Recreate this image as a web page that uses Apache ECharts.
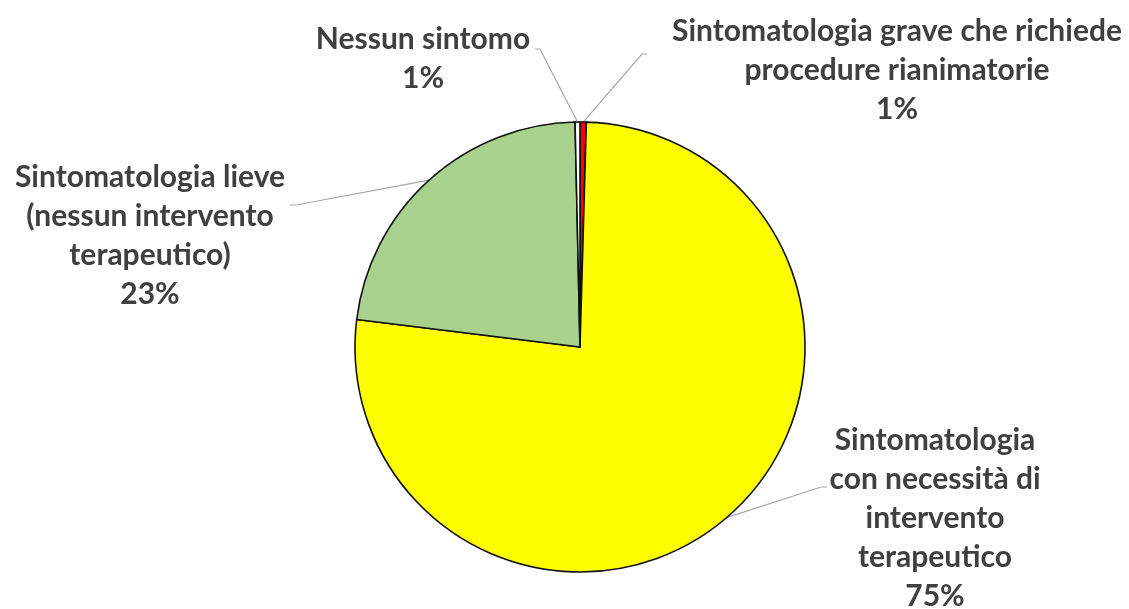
<!DOCTYPE html>
<html>
<head>
<meta charset="utf-8">
<script src="https://cdn.jsdelivr.net/npm/echarts@6/dist/echarts.min.js"></script>
<style>
  html, body { margin: 0; background: #fff; }
  #chartsDom { width: 1129px; height: 609px; }
</style>
</head>
<body>
<div id="chartsDom"></div>
<script>
// dati (in senso orario dalle ore 12)
const categories = [
  "Sintomatologia grave che richiede\nprocedure rianimatorie",
  "Sintomatologia\ncon necessità di\nintervento\nterapeutico",
  "Sintomatologia lieve\n(nessun intervento\nterapeutico)",
  "Nessun sintomo"
];
const shares = [0.45, 76.5, 22.7, 0.35];
const percentLabels = ["1%", "75%", "23%", "1%"];
const sliceColors = ["#FF0000", "#FFFF00", "#A9D18E", "#FFFFFF"];

// posizione delle etichette e piega della linea guida (px)
const labelPos = [[897, 70], [935, 518], [150, 236], [423, 59]];
const leaderEnds = [
  [[642, 54], [647, 54]],
  [[821, 487], [827, 487]],
  [[296, 205], [290, 205]],
  [[540, 49], [535, 49]]
];

const myChart = echarts.init(document.getElementById("chartsDom"));
const option = {
  animation: false,
  series: [
    {
      type: "pie",
      center: [580, 347],
      radius: 225,
      startAngle: 90,
      clockwise: true,
      avoidLabelOverlap: false,
      minAngle: 0,
      emphasis: { disabled: true },
      itemStyle: { borderColor: "#111", borderWidth: 1.6 },
      label: {
        show: true,
        formatter: p => p.name + "\n" + percentLabels[p.dataIndex],
        fontFamily: "Lato",
        fontWeight: "bold",
        fontSize: 30,
        lineHeight: 39,
        color: "#404040",
        align: "center"
      },
      labelLine: {
        show: true,
        lineStyle: { color: "#A6A6A6", width: 1.2 }
      },
      labelLayout: params => {
        const i = params.dataIndex;
        return {
          x: labelPos[i][0],
          y: labelPos[i][1],
          align: "center",
          verticalAlign: "middle",
          labelLinePoints: [params.labelLinePoints[0], leaderEnds[i][0], leaderEnds[i][1]]
        };
      },
      data: categories.map((name, i) => ({
        name,
        value: shares[i],
        itemStyle: { color: sliceColors[i] }
      }))
    }
  ]
};
myChart.setOption(option);
window.addEventListener("resize", () => myChart.resize());
</script>
</body>
</html>
